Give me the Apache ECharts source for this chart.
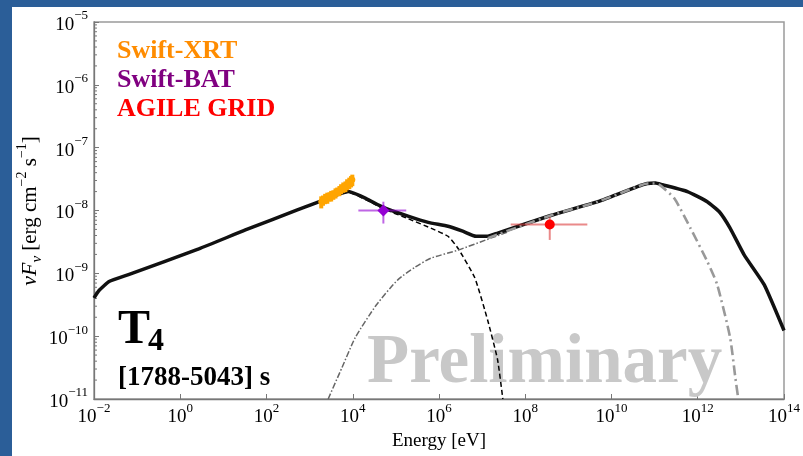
<!DOCTYPE html>
<html><head><meta charset="utf-8">
<script src="https://cdn.jsdelivr.net/npm/echarts@6/dist/echarts.min.js"></script>
<style>html,body{margin:0;padding:0;background:#2b5e98;overflow:hidden}#c{width:803px;height:456px}</style>
</head><body><div id="c"></div>
<script>
// ---- data (energy in eV, nuFnu in erg cm^-2 s^-1) ----
const totalE = [1e-2, 1.32e-2, 2.24e-2, 6.31e-2, 2.69, 32.4, 501, 3980, 7940, 2.04e4, 5.13e4, 1.91e5, 5.62e5, 1.62e6, 3.55e6, 7.24e6, 1.35e7, 2.29e7, 3.89e8, 4.79e9, 3.98e10, 6.76e10, 1.05e11, 1.51e11, 5.75e11, 1.66e12, 3.16e12, 5.62e12, 1.20e13, 3.47e13, 1e14];
const totalF = [4.07e-10, 5.37e-10, 7.41e-10, 9.55e-10, 2.45e-9, 4.90e-9, 1.01e-8, 1.74e-8, 2.0e-8, 1.55e-8, 1.12e-8, 8.13e-9, 6.46e-9, 5.62e-9, 4.68e-9, 3.89e-9, 3.89e-9, 4.37e-9, 8.32e-9, 1.38e-8, 2.40e-8, 2.69e-8, 2.75e-8, 2.57e-8, 2.0e-8, 1.38e-8, 9.55e-9, 5.25e-9, 1.95e-9, 6.61e-10, 1.23e-10];

const synE = [1e-2, 1.32e-2, 2.24e-2, 6.31e-2, 2.69, 32.4, 501, 3980, 7940, 2.04e4, 5.13e4, 1.91e5, 6.46e5, 1.62e6, 2.75e6, 6.76e6, 1.35e7, 2.29e7, 3.02e7];
const synF = [4.07e-10, 5.37e-10, 7.41e-10, 9.55e-10, 2.45e-9, 4.90e-9, 1.01e-8, 1.74e-8, 1.95e-8, 1.48e-8, 1.07e-8, 7.41e-9, 5.25e-9, 3.89e-9, 2.51e-9, 8.51e-10, 1.78e-10, 4.17e-11, 1e-11];

const sscE = [2.69e3, 5.62e3, 1.15e4, 3.55e4, 1.12e5, 2.82e5, 6.46e5, 2.75e6, 1.58e7, 3.98e7];
const sscF = [1e-11, 3.16e-11, 9.55e-11, 3.16e-10, 7.94e-10, 1.26e-9, 1.74e-9, 2.34e-9, 3.63e-9, 4.57e-9];

const ecE = [1.35e7, 3.89e8, 4.79e9, 3.98e10, 6.76e10, 1e11, 1.35e11, 2.88e11, 6.76e11, 1.66e12, 2.82e12, 5.62e12, 7.41e12, 8.71e12];
const ecF = [3.63e-9, 8.32e-9, 1.38e-8, 2.40e-8, 2.69e-8, 2.69e-8, 2.51e-8, 1.55e-8, 5.25e-9, 1.55e-9, 6.61e-10, 9.55e-11, 2.24e-11, 1e-11];

const xrtE = [1860, 2040, 2290, 2570, 2880, 3160, 3550, 3980, 4370, 4900, 5370, 6030, 6760, 7410, 8320, 9120, 9770];
const xrtEerr = [150, 170, 190, 210, 240, 260, 290, 330, 360, 400, 440, 490, 550, 600, 680, 740, 780];
const xrtF = [1.38e-8, 1.46e-8, 1.55e-8, 1.60e-8, 1.67e-8, 1.72e-8, 1.79e-8, 1.90e-8, 2.00e-8, 2.07e-8, 2.22e-8, 2.35e-8, 2.43e-8, 2.62e-8, 2.76e-8, 2.93e-8, 3.08e-8];
const xrtFerr = [0.30e-8, 0.27e-8, 0.29e-8, 0.32e-8, 0.28e-8, 0.33e-8, 0.31e-8, 0.35e-8, 0.32e-8, 0.38e-8, 0.40e-8, 0.44e-8, 0.47e-8, 0.52e-8, 0.57e-8, 0.60e-8, 0.64e-8];

const batE = [5.13e4], batElo = [1.35e4], batEhi = [1.74e5];
const batF = [1.0e-8], batFlo = [0.62e-8], batFhi = [1.38e-8];

const agE = [3.7e8], agElo = [4.6e7], agEhi = [2.75e9];
const agF = [6.0e-9], agFlo = [3.4e-9], agFhi = [7.8e-9];

const yMinorMult = [2, 3, 4, 5, 6, 7, 8, 9];
const yDecades = [1e-11, 1e-10, 1e-9, 1e-8, 1e-7, 1e-6];

const legendTexts = ['Swift-XRT', 'Swift-BAT', 'AGILE GRID'];
const legendColors = ['#ff8c00', '#800080', '#ff0000'];

// ---- build ----
const SERIF = '"Liberation Serif", "DejaVu Serif", serif';
const pairs = (a, b) => a.map((v, i) => [v, b[i]]);
const sup = e => String(e).replace('-', '\u2212');

function errRender(markColor, barColor, barW, shape, r) {
  return function (params, api) {
    const x = api.value(0), y = api.value(1);
    const c = api.coord([x, y]);
    const h0 = api.coord([api.value(2), y]), h1 = api.coord([api.value(3), y]);
    const v0 = api.coord([x, api.value(4)]), v1 = api.coord([x, api.value(5)]);
    const ls = { stroke: barColor, lineWidth: barW };
    const children = [
      { type: 'line', shape: { x1: h0[0], y1: h0[1], x2: h1[0], y2: h1[1] }, style: ls },
      { type: 'line', shape: { x1: v0[0], y1: v0[1], x2: v1[0], y2: v1[1] }, style: ls }
    ];
    if (shape === 'diamond') {
      children.push({ type: 'polygon', shape: { points: [[c[0], c[1] - r], [c[0] + r, c[1]], [c[0], c[1] + r], [c[0] - r, c[1]]] }, style: { fill: markColor } });
    } else {
      children.push({ type: 'circle', shape: { cx: c[0], cy: c[1], r: r }, style: { fill: markColor } });
    }
    return { type: 'group', children };
  };
}

const xrtData = xrtE.map((e, i) => [e, xrtF[i], e - xrtEerr[i], e + xrtEerr[i], xrtF[i] - xrtFerr[i], xrtF[i] + xrtFerr[i]]);
const batData = batE.map((e, i) => [e, batF[i], batElo[i], batEhi[i], batFlo[i], batFhi[i]]);
const agData = agE.map((e, i) => [e, agF[i], agElo[i], agEhi[i], agFlo[i], agFhi[i]]);
const minorData = [];
yDecades.forEach(d => yMinorMult.forEach(m => minorData.push([1e-2, m * d])));

const chart = echarts.init(document.getElementById('c'));
const graphics = [
  { type: 'rect', z: -10, shape: { x: 12, y: 7, width: 791, height: 449 }, style: { fill: '#ffffff' } }
];
legendTexts.forEach((t, i) => graphics.push({
  type: 'text', z: 10, x: 117, y: 51 + i * 29,
  style: { text: t, fill: legendColors[i], font: 'bold 26px ' + SERIF, verticalAlign: 'middle' }
}));
graphics.push({ type: 'text', z: 10, x: 118, y: 331, style: { text: 'T', fill: '#000', font: 'bold 48px ' + SERIF, verticalAlign: 'middle' } });
graphics.push({ type: 'text', z: 10, x: 148, y: 342, style: { text: '4', fill: '#000', font: 'bold 32px ' + SERIF, verticalAlign: 'middle' } });
graphics.push({ type: 'text', z: 10, x: 118, y: 378, style: { text: '[1788-5043] s', fill: '#000', font: 'bold 27px ' + SERIF, verticalAlign: 'middle' } });
graphics.push({ type: 'text', z: 1, x: 367, y: 364, style: { text: 'Preliminary', fill: '#c8c8c8', font: 'bold 69px ' + SERIF, verticalAlign: 'middle' } });
// y axis title (rotated, with sub/superscripts)
graphics.push({
  type: 'text', z: 10, x: 30, y: 211, rotation: Math.PI / 2,
  style: {
    text: '{i|\u03bdF}{sb|\u03bd}{n| [erg cm}{sp|\u22122}{n| s}{sp|\u22121}{n|]}',
    align: 'center', verticalAlign: 'middle',
    rich: {
      i: { fontFamily: SERIF, fontStyle: 'italic', fontSize: 22, fill: '#000', verticalAlign: 'middle', lineHeight: 30 },
      sb: { fontFamily: SERIF, fontStyle: 'italic', fontSize: 15, fill: '#000', verticalAlign: 'bottom', lineHeight: 30 },
      n: { fontFamily: SERIF, fontSize: 21, fill: '#000', verticalAlign: 'middle', lineHeight: 30 },
      sp: { fontFamily: SERIF, fontSize: 14, fill: '#000', verticalAlign: 'top', lineHeight: 30 }
    }
  }
});

const tickRich = {
  b: { fontFamily: SERIF, fontSize: 19, color: '#000', verticalAlign: 'bottom', lineHeight: 25 },
  s: { fontFamily: SERIF, fontSize: 13, color: '#000', verticalAlign: 'top', lineHeight: 25 }
};
const fmt = v => '{b|10}{s|' + sup(Math.round(Math.log10(v))) + '}';

chart.setOption({
  animation: false,
  backgroundColor: '#2b5e98',
  graphic: graphics,
  grid: { left: 94, top: 22, right: 16, bottom: 53, show: true, borderColor: '#9a9a9a', borderWidth: 1.5, backgroundColor: 'transparent' },
  xAxis: {
    type: 'log', logBase: 10, min: 1e-2, max: 1e14, interval: 2, splitNumber: 8,
    name: 'Energy [eV]', nameLocation: 'middle', nameGap: 33,
    nameTextStyle: { fontFamily: SERIF, fontSize: 19, color: '#000' },
    axisLine: { lineStyle: { color: '#777', width: 1.3 } },
    axisTick: { inside: true, length: 5, lineStyle: { color: '#777' } },
    axisLabel: { margin: 3, formatter: fmt, rich: tickRich },
    splitLine: { show: false }
  },
  yAxis: {
    type: 'log', logBase: 10, min: 1e-11, max: 1e-5, interval: 1, splitNumber: 6,
    axisLine: { lineStyle: { color: '#777', width: 1.3 } },
    axisTick: { inside: true, length: 5, lineStyle: { color: '#777' } },
    axisLabel: { margin: 6, formatter: fmt, rich: tickRich },
    splitLine: { show: false }
  },
  series: [
    { type: 'custom', z: 2, silent: true, data: minorData,
      renderItem: (p, api) => { const c = api.coord([api.value(0), api.value(1)]); return { type: 'line', shape: { x1: c[0], y1: c[1], x2: c[0] + 3, y2: c[1] }, style: { stroke: '#777', lineWidth: 1 } }; } },
    { type: 'line', z: 3, data: pairs(synE, synF), showSymbol: false, smooth: 0.15, lineStyle: { color: '#000', width: 1.5, type: [5, 3] } },
    { type: 'line', z: 3, data: pairs(sscE, sscF), showSymbol: false, smooth: 0.2, lineStyle: { color: '#666', width: 1.5, type: [6, 2, 1.5, 2] } },
    { type: 'line', z: 4, data: pairs(totalE, totalF), showSymbol: false, smooth: 0.15, lineStyle: { color: '#111', width: 3.5 } },
    { type: 'line', z: 5, data: pairs(ecE, ecF), showSymbol: false, smooth: 0.2, lineStyle: { color: '#999', width: 2.6, type: [10, 4, 2, 4] } },
    { type: 'custom', z: 6, data: xrtData, renderItem: errRender('#ffa500', '#ffa500', 4, 'circle', 3) },
    { type: 'custom', z: 6, data: batData, renderItem: errRender('#9400d3', 'rgba(148,0,211,0.6)', 2, 'diamond', 6) },
    { type: 'custom', z: 6, data: agData, renderItem: errRender('#ff0000', 'rgba(220,60,60,0.6)', 2, 'circle', 5) }
  ]
});
</script></body></html>
